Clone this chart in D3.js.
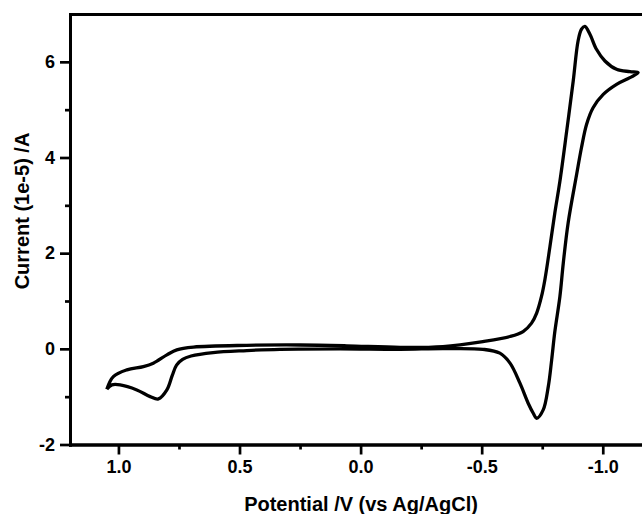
<!DOCTYPE html>
<html><head><meta charset="utf-8">
<script src="https://cdn.jsdelivr.net/npm/d3@7"></script>
<style>body{margin:0;background:#fff}svg{display:block}</style>
</head><body><svg id="c" width="642" height="514"></svg>
<script>
// Cyclic voltammogram, loop order (starting at anodic vertex, forward cathodic sweep first)
const potential = [1.048, 1.021, 0.965, 0.897, 0.856, 0.800, 0.759, 0.690, 0.470, 0.250, 0.057, -0.163, -0.340, -0.505, -0.617, -0.671, -0.706, -0.727, -0.747, -0.761, -0.782, -0.802, -0.823, -0.851, -0.878, -0.898, -0.912, -0.926, -0.947, -0.974, -1.009, -1.057, -1.112, -1.146,
  -1.112, -1.057, -1.002, -0.960, -0.933, -0.912, -0.892, -0.857, -0.837, -0.823, -0.802, -0.789, -0.775, -0.754, -0.727, -0.713, -0.692, -0.658, -0.617, -0.575, -0.505, -0.340, -0.163, 0.085, 0.333, 0.470, 0.609, 0.700, 0.735, 0.760, 0.778, 0.800, 0.835, 0.869, 0.924, 0.993, 1.027, 1.048];
const current = [-0.844, -0.580, -0.440, -0.371, -0.299, -0.126, -0.021, 0.036, 0.073, 0.080, 0.063, 0.031, 0.048, 0.153, 0.258, 0.362, 0.538, 0.748, 1.095, 1.445, 2.142, 2.842, 3.504, 4.551, 5.598, 6.436, 6.681, 6.739, 6.576, 6.262, 6.017, 5.843, 5.795, 5.774,
  5.669, 5.529, 5.319, 5.041, 4.691, 4.203, 3.644, 2.632, 1.795, 1.095, 0.356, -0.230, -0.790, -1.277, -1.451, -1.347, -1.137, -0.718, -0.299, -0.090, -0.010, 0.004, -0.010, 0.000, -0.010, -0.036, -0.077, -0.150, -0.220, -0.340, -0.560, -0.859, -1.047, -0.999, -0.859, -0.754, -0.754, -0.844];

const xTickValues = [1.0, 0.5, 0.0, -0.5, -1.0];
const xTickLabels = ["1.0", "0.5", "0.0", "-0.5", "-1.0"];
const xMinorTicks = [0.75, 0.25, -0.25, -0.75];
const yTickValues = [-2, 0, 2, 4, 6];
const yTickLabels = ["-2", "0", "2", "4", "6"];
const yMinorTicks = [-1, 1, 3, 5];
const xTitle = "Potential /V (vs Ag/AgCl)";
const yTitle = "Current (1e-5) /A";

const FONT = "'Liberation Sans', Arial, Helvetica, sans-serif";
const svg = d3.select("#c");
const x = d3.scaleLinear().domain([1.2, -1.2]).range([70, 651.2]);
const y = d3.scaleLinear().domain([-2, 7]).range([444.5, 14]);
const X0 = x.range()[0], Y0 = y.range()[0], Y1 = y.range()[1];

function styleAxis(g) {
  g.attr("font-family", FONT).attr("font-size", 18).attr("font-weight", "bold");
  g.selectAll("path.domain").attr("stroke", "#000").attr("stroke-width", 3).attr("stroke-linecap", "square");
  g.selectAll(".tick line").attr("stroke", "#000").attr("stroke-width", 2.7);
  g.selectAll(".tick text").attr("fill", "#000");
}

// minor ticks
svg.append("g").attr("transform", `translate(0,${Y0})`)
  .call(d3.axisBottom(x).tickValues(xMinorTicks).tickFormat("").tickSize(5).tickSizeOuter(0))
  .call(styleAxis);
svg.append("g").attr("transform", `translate(${X0},0)`)
  .call(d3.axisLeft(y).tickValues(yMinorTicks).tickFormat("").tickSize(5).tickSizeOuter(0))
  .call(styleAxis);

// major ticks
svg.append("g").attr("transform", `translate(0,${Y0})`)
  .call(d3.axisBottom(x).tickValues(xTickValues).tickFormat((d, i) => xTickLabels[i]).tickSize(10).tickPadding(6).tickSizeOuter(0))
  .call(styleAxis);
svg.append("g").attr("transform", `translate(${X0},0)`)
  .call(d3.axisLeft(y).tickValues(yTickValues).tickFormat((d, i) => yTickLabels[i]).tickSize(10).tickPadding(5).tickSizeOuter(0))
  .call(styleAxis);

// top and right frame
svg.append("g").attr("transform", `translate(0,${Y1})`)
  .call(d3.axisTop(x).tickValues([]).tickSizeOuter(0)).call(styleAxis);
svg.append("g").attr("transform", `translate(${x.range()[1]},0)`)
  .call(d3.axisRight(y).tickValues([]).tickSizeOuter(0)).call(styleAxis);

// curve
const pts = potential.map((v, i) => [v, current[i]]);
const line = d3.line().x(d => x(d[0])).y(d => y(d[1])).curve(d3.curveCatmullRom.alpha(0.5));
svg.append("path").datum(pts).attr("d", line)
  .attr("fill", "none").attr("stroke", "#000").attr("stroke-width", 3.3).attr("stroke-linejoin", "round");

// titles
svg.append("text").attr("x", 361).attr("y", 511).attr("text-anchor", "middle")
  .attr("font-family", FONT).attr("font-size", 20).attr("font-weight", "bold").text(xTitle);
svg.append("text").attr("transform", "translate(28.5,211) rotate(-90)").attr("text-anchor", "middle")
  .attr("font-family", FONT).attr("font-size", 20).attr("font-weight", "bold").text(yTitle);
</script></body></html>
